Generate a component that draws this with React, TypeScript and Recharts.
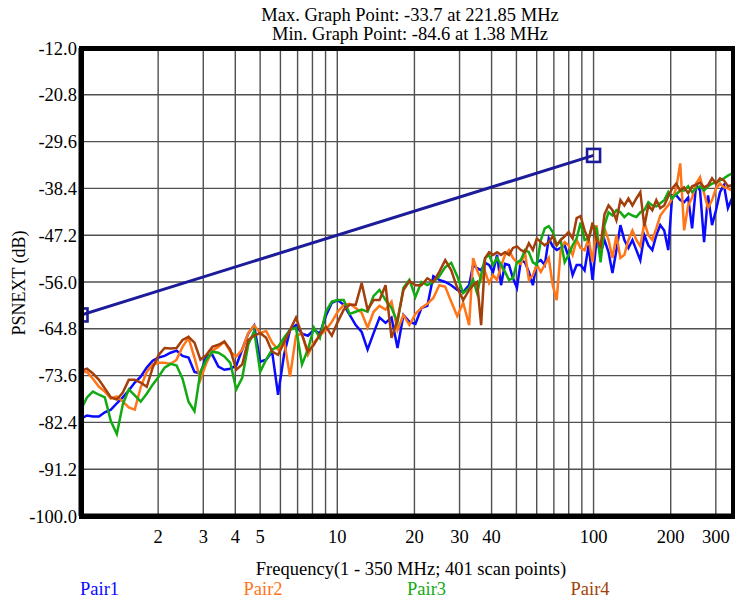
import React from 'react';
import { LineChart, Line, XAxis, YAxis, CartesianGrid } from 'recharts';

const FREQ = [1.000,1.055,1.113,1.175,1.239,1.308,1.380,1.456,1.536,1.621,1.710,1.805,1.904,2.009,2.120,2.237,2.360,2.490,2.627,2.772,2.924,3.086,3.256,3.435,3.625,3.824,4.035,4.257,4.492,4.740,5.001,5.277,5.568,5.874,6.198,6.540,6.900,7.281,7.682,8.105,8.551,9.022,9.520,10.04,10.60,11.18,11.80,12.45,13.13,13.86,14.62,15.43,16.28,17.18,18.12,19.12,20.18,21.29,22.46,23.70,25.01,26.38,27.84,29.38,30.99,32.70,
  33.89,35.13,36.41,37.74,39.11,40.54,42.02,43.55,45.13,46.78,48.48,50.24,52.07,53.96,55.92,57.96,60.07,62.25,64.51,66.86,69.29,71.81,74.42,77.13,79.93,82.84,85.90,89.01,92.25,95.63,99.10,102.7,106.5,110.3,114.4,118.5,122.8,127.3,131.9,136.8,141.8,146.9,152.2,157.8,163.6,169.5,175.7,182.1,188.7,195.6,202.7,210.1,217.8,225.7,233.9,242.4,251.2,260.3,269.9,279.7,289.9,300.4,311.4,322.7,334.4,346.6];

const PAIR1 = [-81.7,-81.1,-81.3,-81.3,-80.5,-80.0,-78.8,-77.7,-76.4,-74.9,-73.8,-72.1,-70.8,-70.2,-69.9,-69.3,-68.9,-69.9,-70.2,-72.9,-73.2,-69.9,-69.7,-71.9,-72.5,-72.3,-71.7,-68.7,-65.7,-64.2,-71.0,-70.6,-69.1,-77.2,-69.7,-65.0,-64.1,-65.7,-66.1,-65.0,-65.7,-62.4,-59.9,-59.4,-60.3,-62.2,-64.1,-65.4,-68.7,-65.6,-62.7,-63.7,-62.7,-68.4,-62.2,-63.5,-63.9,-60.9,-60.5,-54.9,-55.6,-56.0,-56.6,-57.5,-57.9,-56.6,
  -52.8,-53.4,-53.8,-52.4,-52.8,-54.1,-50.9,-56.6,-52.6,-52.8,-55.3,-57.1,-51.9,-52.3,-54.1,-56.6,-52.3,-51.9,-52.8,-47.8,-49.3,-50.0,-49.6,-49.1,-51.3,-54.7,-52.8,-52.8,-53.8,-49.1,-55.6,-48.1,-50.6,-48.1,-50.4,-54.3,-50.0,-45.3,-48.1,-49.6,-48.1,-50.0,-51.9,-47.2,-49.1,-50.0,-47.2,-45.3,-46.3,-50.0,-39.7,-39.7,-40.6,-41.0,-40.1,-45.9,-37.8,-38.8,-48.5,-39.7,-45.3,-42.5,-39.1,-37.8,-42.1,-40.3];

const PAIR2 = [-72.9,-72.9,-74.2,-75.7,-76.6,-77.9,-77.5,-78.5,-79.6,-80.0,-75.8,-72.9,-71.5,-71.2,-71.2,-71.4,-70.6,-68.2,-66.5,-70.2,-74.4,-71.2,-68.9,-68.2,-67.2,-69.1,-70.0,-68.7,-65.6,-64.2,-65.6,-65.2,-67.4,-68.7,-66.9,-73.8,-66.1,-65.7,-69.7,-67.4,-66.1,-65.0,-63.5,-61.6,-60.3,-60.1,-60.9,-61.8,-64.6,-61.6,-60.5,-61.2,-59.7,-65.0,-62.2,-64.1,-62.0,-60.9,-60.1,-59.0,-56.6,-56.9,-59.7,-62.4,-59.9,-64.1,
  -51.5,-53.8,-55.6,-54.1,-56.2,-54.7,-55.6,-53.0,-50.9,-50.0,-51.5,-52.3,-52.6,-50.4,-55.6,-54.7,-52.8,-54.1,-52.8,-51.5,-56.6,-59.4,-50.0,-48.5,-49.1,-50.9,-48.1,-49.6,-50.0,-47.8,-52.3,-45.3,-51.5,-45.9,-48.1,-51.5,-47.2,-51.5,-50.9,-48.1,-46.3,-48.1,-49.3,-44.8,-47.2,-48.1,-45.9,-43.5,-42.5,-41.6,-40.3,-38.4,-33.7,-46.3,-41.6,-40.1,-37.5,-36.3,-39.3,-42.1,-40.6,-38.4,-37.5,-38.2,-38.4,-38.8];

const PAIR3 = [-80.0,-77.7,-76.6,-77.2,-77.7,-82.2,-84.6,-79.0,-76.2,-77.3,-78.5,-77.0,-75.3,-73.8,-72.1,-71.4,-71.7,-74.2,-78.5,-80.3,-72.9,-70.6,-69.1,-69.3,-70.0,-71.2,-76.2,-74.0,-67.8,-65.2,-72.9,-70.6,-68.7,-68.2,-66.5,-65.0,-64.6,-71.5,-68.7,-64.6,-66.5,-61.6,-59.7,-59.4,-59.4,-62.0,-61.6,-61.2,-61.6,-58.6,-57.5,-59.4,-60.9,-63.5,-57.1,-55.6,-58.8,-56.0,-56.6,-56.0,-54.9,-53.2,-52.4,-54.9,-58.1,-57.1,
  -55.6,-58.1,-54.7,-51.5,-50.9,-52.8,-51.5,-52.8,-54.1,-55.6,-55.3,-52.3,-51.9,-50.0,-50.4,-52.3,-52.8,-48.1,-45.9,-45.5,-46.6,-49.1,-48.1,-52.3,-50.9,-49.1,-47.8,-44.8,-48.1,-47.8,-45.3,-45.9,-52.3,-45.3,-42.9,-43.5,-42.5,-42.9,-43.8,-43.1,-43.5,-43.8,-42.9,-42.5,-41.0,-41.6,-41.8,-41.2,-40.6,-39.1,-40.3,-39.5,-38.8,-38.8,-38.0,-39.1,-38.4,-38.0,-38.8,-38.0,-37.5,-37.3,-36.9,-36.5,-36.0,-35.6];

const PAIR4 = [-72.7,-72.3,-73.2,-74.4,-76.0,-77.7,-78.1,-76.8,-74.4,-74.4,-74.9,-75.7,-72.1,-69.7,-68.4,-68.5,-68.4,-66.9,-66.3,-67.4,-70.6,-69.7,-68.2,-67.8,-67.2,-68.7,-72.5,-71.5,-66.9,-66.1,-65.6,-66.5,-69.1,-69.7,-67.4,-65.0,-62.7,-65.9,-69.1,-67.8,-65.9,-64.4,-66.1,-63.5,-61.2,-60.3,-60.3,-56.2,-61.2,-59.4,-59.4,-56.6,-66.5,-63.1,-57.5,-55.8,-56.6,-56.6,-55.3,-56.0,-54.1,-51.9,-53.8,-57.1,-59.4,-57.5,
  -56.6,-56.0,-64.1,-51.5,-50.4,-50.9,-50.4,-50.9,-50.4,-50.9,-49.6,-49.3,-50.0,-50.4,-48.7,-50.0,-47.8,-48.5,-49.1,-48.5,-47.4,-49.1,-48.1,-47.4,-46.6,-47.8,-44.0,-43.6,-46.3,-48.1,-44.8,-48.1,-49.3,-43.3,-41.6,-42.5,-44.4,-40.6,-41.6,-40.3,-41.6,-40.3,-39.1,-45.5,-41.6,-42.5,-40.6,-42.1,-41.6,-39.9,-38.4,-37.5,-38.8,-38.2,-39.3,-38.0,-37.7,-37.3,-38.2,-37.8,-36.5,-37.5,-36.5,-36.9,-38.0,-37.8];

const LIMIT_FREQ = [1, 100];
const LIMIT_DB = [-62.2, -32.2];

const Y_TICKS = [-100, -91.2, -82.4, -73.6, -64.8, -56, -47.2, -38.4, -29.6, -20.8, -12];
const X_GRID_TICKS = [2, 3, 4, 5, 6, 7, 8, 9, 10, 20, 30, 40, 50, 60, 70, 80, 90, 100, 200, 300];
const X_LABELS = [2, 3, 4, 5, 10, 20, 30, 40, 100, 200, 300];

const SERIES = ['Pair1', 'Pair2', 'Pair3', 'Pair4'];
const COLORS = ['#0a0aff', '#ff7518', '#12aa12', '#a33f0b'];
const LIMIT_COLOR = '#1c1c9a';

const TITLE_1 = 'Max. Graph Point: -33.7 at 221.85 MHz';
const TITLE_2 = 'Min. Graph Point: -84.6 at 1.38 MHz';
const X_TITLE = 'Frequency(1 - 350 MHz; 401 scan points)';
const Y_TITLE = 'PSNEXT (dB)';

const rows = FREQ.map((f, i) => ({ f, Pair1: PAIR1[i], Pair2: PAIR2[i], Pair3: PAIR3[i], Pair4: PAIR4[i] }));
const limitRows = LIMIT_FREQ.map((f, i) => ({ f, limit: LIMIT_DB[i] }));

const FONT = '"Liberation Serif", "Times New Roman", serif';
const FRAME = { stroke: '#000', strokeWidth: 5 };
const PLOT = { left: 81, top: 48, right: 733, bottom: 516 };
const FRAME_W = 5;

const SquareDot = (props: any) => {
  const { cx, cy, index } = props;
  if (cx == null || cy == null) return <g key={`sq-${index}`} />;
  return (
    <rect key={`sq-${index}`} x={cx - 6.5} y={cy - 6.5} width={13} height={13}
      fill="none" stroke={LIMIT_COLOR} strokeWidth={2.6} />
  );
};

const textStyle: React.CSSProperties = {
  position: 'absolute', fontFamily: FONT, fontSize: 18.5, lineHeight: '20px',
  whiteSpace: 'nowrap', color: '#000',
};

export default function App() {
  return (
    <div style={{ position: 'absolute', left: 0, top: 0, width: 735, height: 604, background: '#fff' }}>
      <LineChart width={735} height={604} data={rows} margin={{ top: 48, right: 2, left: 1, bottom: 0 }}>
        <CartesianGrid stroke="#505050" strokeWidth={1.4} />
        <XAxis dataKey="f" type="number" scale="log" domain={[1, 350]} allowDataOverflow
          ticks={X_GRID_TICKS} interval={0} height={88}
          axisLine={FRAME} tickLine={false} tickMargin={8}
          tickFormatter={(v: number) => (X_LABELS.includes(v) ? String(v) : '')}
          tick={{ fontFamily: FONT, fontSize: 18.5, fill: '#000' }} />
        <YAxis type="number" domain={[-100, -12]} ticks={Y_TICKS} interval={0} width={80}
          axisLine={FRAME} tickLine={false} tickSize={0} tickMargin={4}
          tickFormatter={(v: number) => v.toFixed(1)}
          tick={{ fontFamily: FONT, fontSize: 18.5, fill: '#000' }} />
        {SERIES.map((s, i) => (
          <Line key={s} dataKey={s} type="linear" stroke={COLORS[i]} strokeWidth={2.5}
            dot={false} activeDot={false} isAnimationActive={false} />
        ))}
        <Line data={limitRows} dataKey="limit" type="linear" stroke={LIMIT_COLOR} strokeWidth={3}
          dot={SquareDot} activeDot={false} isAnimationActive={false} />
      </LineChart>

      <div style={{
        position: 'absolute', pointerEvents: 'none', boxSizing: 'border-box',
        left: PLOT.left - FRAME_W / 2, top: PLOT.top - FRAME_W / 2,
        width: PLOT.right - PLOT.left + FRAME_W, height: PLOT.bottom - PLOT.top + FRAME_W,
        borderStyle: 'solid', borderColor: '#000', borderWidth: FRAME_W,
      }} />

      <div style={{ ...textStyle, left: 0, width: 820, textAlign: 'center', top: 5 }}>{TITLE_1}</div>
      <div style={{ ...textStyle, left: 0, width: 820, textAlign: 'center', top: 24 }}>{TITLE_2}</div>
      <div style={{ ...textStyle, left: 0, width: 822, textAlign: 'center', top: 559 }}>{X_TITLE}</div>
      <div style={{ ...textStyle, fontSize: 18, left: 19, top: 283, transform: 'translate(-50%, -50%) rotate(-90deg)' }}>{Y_TITLE}</div>
      {SERIES.map((s, i) => (
        <div key={s} style={{ ...textStyle, left: 99.6 + i * 163.5, top: 579, transform: 'translateX(-50%)', color: COLORS[i] }}>{s}</div>
      ))}
    </div>
  );
}
